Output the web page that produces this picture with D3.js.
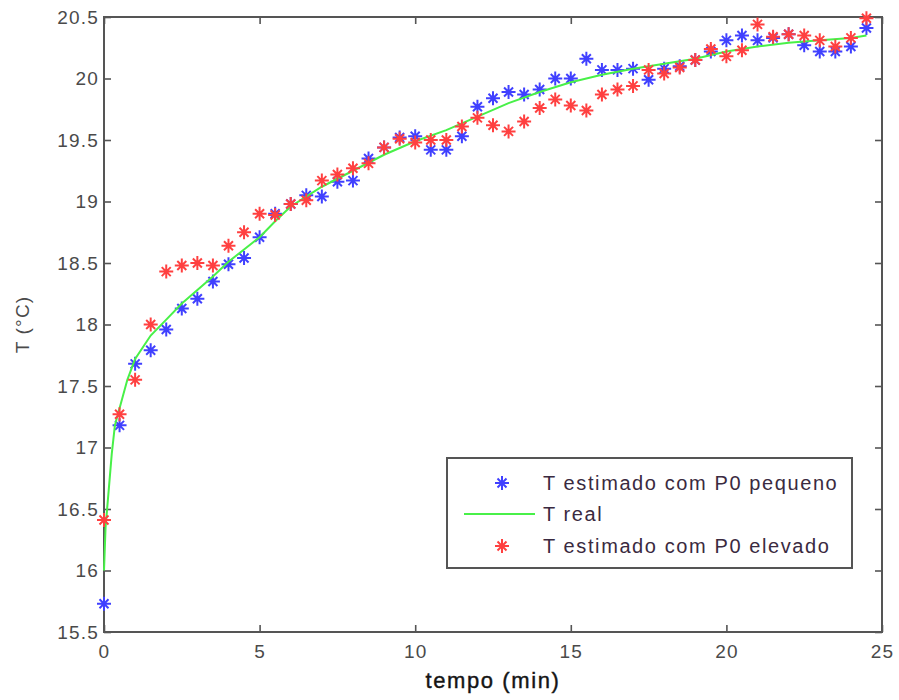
<!DOCTYPE html>
<html>
<head>
<meta charset="utf-8">
<script src="https://cdnjs.cloudflare.com/ajax/libs/d3/7.8.5/d3.min.js"></script>
<style>
  html, body { margin: 0; padding: 0; background: #fff; }
  svg { display: block; }
  text { font-family: "Liberation Sans", Arial, sans-serif; }
</style>
</head>
<body>
<svg id="chart" width="899" height="700"></svg>
<script>
// ---------- data ----------
const times = [0,0.5,1,1.5,2,2.5,3,3.5,4,4.5,5,5.5,6,6.5,7,7.5,8,8.5,9,9.5,
  10,10.5,11,11.5,12,12.5,13,13.5,14,14.5,15,15.5,16,16.5,17,17.5,18,18.5,19,19.5,
  20,20.5,21,21.5,22,22.5,23,23.5,24,24.5];

const tempPequeno = [15.73,17.18,17.68,17.79,17.96,18.13,18.21,18.35,18.49,18.54,
  18.71,18.90,18.98,19.05,19.04,19.16,19.17,19.35,19.44,19.52,
  19.53,19.42,19.42,19.53,19.77,19.84,19.89,19.87,19.91,20.00,
  20.00,20.16,20.07,20.07,20.08,19.99,20.08,20.10,20.15,20.22,
  20.31,20.35,20.31,20.33,20.36,20.27,20.22,20.22,20.26,20.41];

const tempElevado = [16.41,17.27,17.55,18.00,18.43,18.48,18.50,18.48,18.64,18.75,
  18.90,18.89,18.98,19.01,19.17,19.22,19.27,19.31,19.44,19.51,
  19.48,19.50,19.50,19.61,19.68,19.62,19.57,19.65,19.76,19.83,
  19.78,19.74,19.87,19.91,19.94,20.07,20.04,20.09,20.15,20.24,
  20.18,20.23,20.44,20.34,20.36,20.35,20.31,20.26,20.33,20.49];

const realTimes = [0,0.05,0.15,0.25,0.35,0.5,0.75,1,1.5,2,2.5,3,3.5,4,4.5,5,5.5,6,7,8,9,
  10,11,12,13,14,15,16,17,18,19,20,21,22,23,24,24.5];
const tempReal = [16.0,16.35,16.65,16.95,17.18,17.32,17.55,17.72,17.91,18.04,18.17,18.28,18.39,18.51,18.61,18.71,18.84,18.96,19.12,19.25,19.38,
  19.49,19.58,19.69,19.80,19.89,19.97,20.03,20.08,20.12,20.16,20.22,20.26,20.29,20.31,20.33,20.35];

const xTicks = [0,5,10,15,20,25];
const yTicks = [15.5,16,16.5,17,17.5,18,18.5,19,19.5,20,20.5];

const xLabel = "tempo (min)";
const yLabel = "T (°C)";
const legendLabels = ["T estimado com P0 pequeno", "T real", "T estimado com P0 elevado"];

// ---------- layout ----------
const svg = d3.select("#chart");
const L = 104, R = 882, T = 17, B = 632;
const x = d3.scaleLinear().domain([0,25]).range([L,R]);
const y = d3.scaleLinear().domain([15.5,20.5]).range([B,T]);

const axisColor = "#555";
const tickColor = "#4a4a4a";
const blue = "#4040ff", red = "#ff4040", green = "#48f048";

function styleAxis(g) {
  g.select(".domain").remove();
  g.selectAll(".tick line").attr("stroke", axisColor).attr("stroke-width", 1.6);
  g.selectAll(".tick text")
    .attr("fill", tickColor)
    .style("font-size", "19px")
    .style("letter-spacing", "1.2px");
}
const fmt = d => String(d);

svg.append("g").attr("transform", `translate(0,${B})`)
  .call(d3.axisBottom(x).tickValues(xTicks).tickFormat(fmt).tickSizeInner(-7).tickSizeOuter(0).tickPadding(13))
  .call(styleAxis);
svg.append("g").attr("transform", `translate(0,${T})`)
  .call(d3.axisTop(x).tickValues(xTicks).tickFormat("").tickSizeInner(-7).tickSizeOuter(0))
  .call(styleAxis);
svg.append("g").attr("transform", `translate(${L},0)`)
  .call(d3.axisLeft(y).tickValues(yTicks).tickFormat(fmt).tickSizeInner(-7).tickSizeOuter(0).tickPadding(5))
  .call(styleAxis);
svg.append("g").attr("transform", `translate(${R},0)`)
  .call(d3.axisRight(y).tickValues(yTicks).tickFormat("").tickSizeInner(-7).tickSizeOuter(0))
  .call(styleAxis);

// frame
svg.append("rect")
  .attr("x", L).attr("y", T).attr("width", R-L).attr("height", B-T)
  .attr("fill", "none").attr("stroke", axisColor).attr("stroke-width", 2);

// axis labels
svg.append("text")
  .attr("x", (L+R)/2).attr("y", 688)
  .attr("text-anchor", "middle")
  .attr("fill", "#151515")
  .style("font-size", "22px")
  .style("letter-spacing", "1.6px")
  .style("stroke", "#151515").style("stroke-width", "0.4px")
  .text(xLabel);
svg.append("text")
  .attr("transform", `translate(29,${(T+B)/2}) rotate(-90)`)
  .attr("text-anchor", "middle")
  .attr("fill", tickColor)
  .style("font-size", "19px")
  .style("letter-spacing", "1.2px")
  .text(yLabel);

// marker
const starPath = "M-7,0H7M0,-7V7M-4.5,-4.5L4.5,4.5M-4.5,4.5L4.5,-4.5";

const plot = svg.append("g");

plot.selectAll("path.blue").data(times.map((t,i)=>[t,tempPequeno[i]])).join("path")
  .attr("class","blue")
  .attr("transform", d => `translate(${x(d[0])},${y(d[1])})`)
  .attr("d", starPath).attr("stroke", blue).attr("stroke-width", 2).attr("fill","none");

const line = d3.line().x(d=>x(d[0])).y(d=>y(d[1]));
plot.append("path")
  .datum(realTimes.map((t,i)=>[t,tempReal[i]]))
  .attr("d", line).attr("fill","none").attr("stroke", green).attr("stroke-width", 2);

plot.selectAll("path.red").data(times.map((t,i)=>[t,tempElevado[i]])).join("path")
  .attr("class","red")
  .attr("transform", d => `translate(${x(d[0])},${y(d[1])})`)
  .attr("d", starPath).attr("stroke", red).attr("stroke-width", 2).attr("fill","none");

// legend
const lg = svg.append("g");
lg.append("rect").attr("x",447).attr("y",458).attr("width",405).attr("height",110)
  .attr("fill","#fff").attr("stroke","#555").attr("stroke-width",2);
const rows = [483, 514, 546];
lg.append("path").attr("transform",`translate(502,${rows[0]})`).attr("d",starPath)
  .attr("stroke",blue).attr("stroke-width",2).attr("fill","none");
lg.append("line").attr("x1",464).attr("x2",535).attr("y1",rows[1]).attr("y2",rows[1])
  .attr("stroke",green).attr("stroke-width",2);
lg.append("path").attr("transform",`translate(502,${rows[2]})`).attr("d",starPath)
  .attr("stroke",red).attr("stroke-width",2).attr("fill","none");
lg.selectAll("text.leg").data(legendLabels).join("text")
  .attr("class","leg")
  .attr("x",543).attr("y",(d,i)=>rows[i]+7)
  .attr("fill","#3a2a40")
  .style("font-size","20px")
  .style("letter-spacing","1.6px")
  .text(d=>d);
</script>
</body>
</html>
